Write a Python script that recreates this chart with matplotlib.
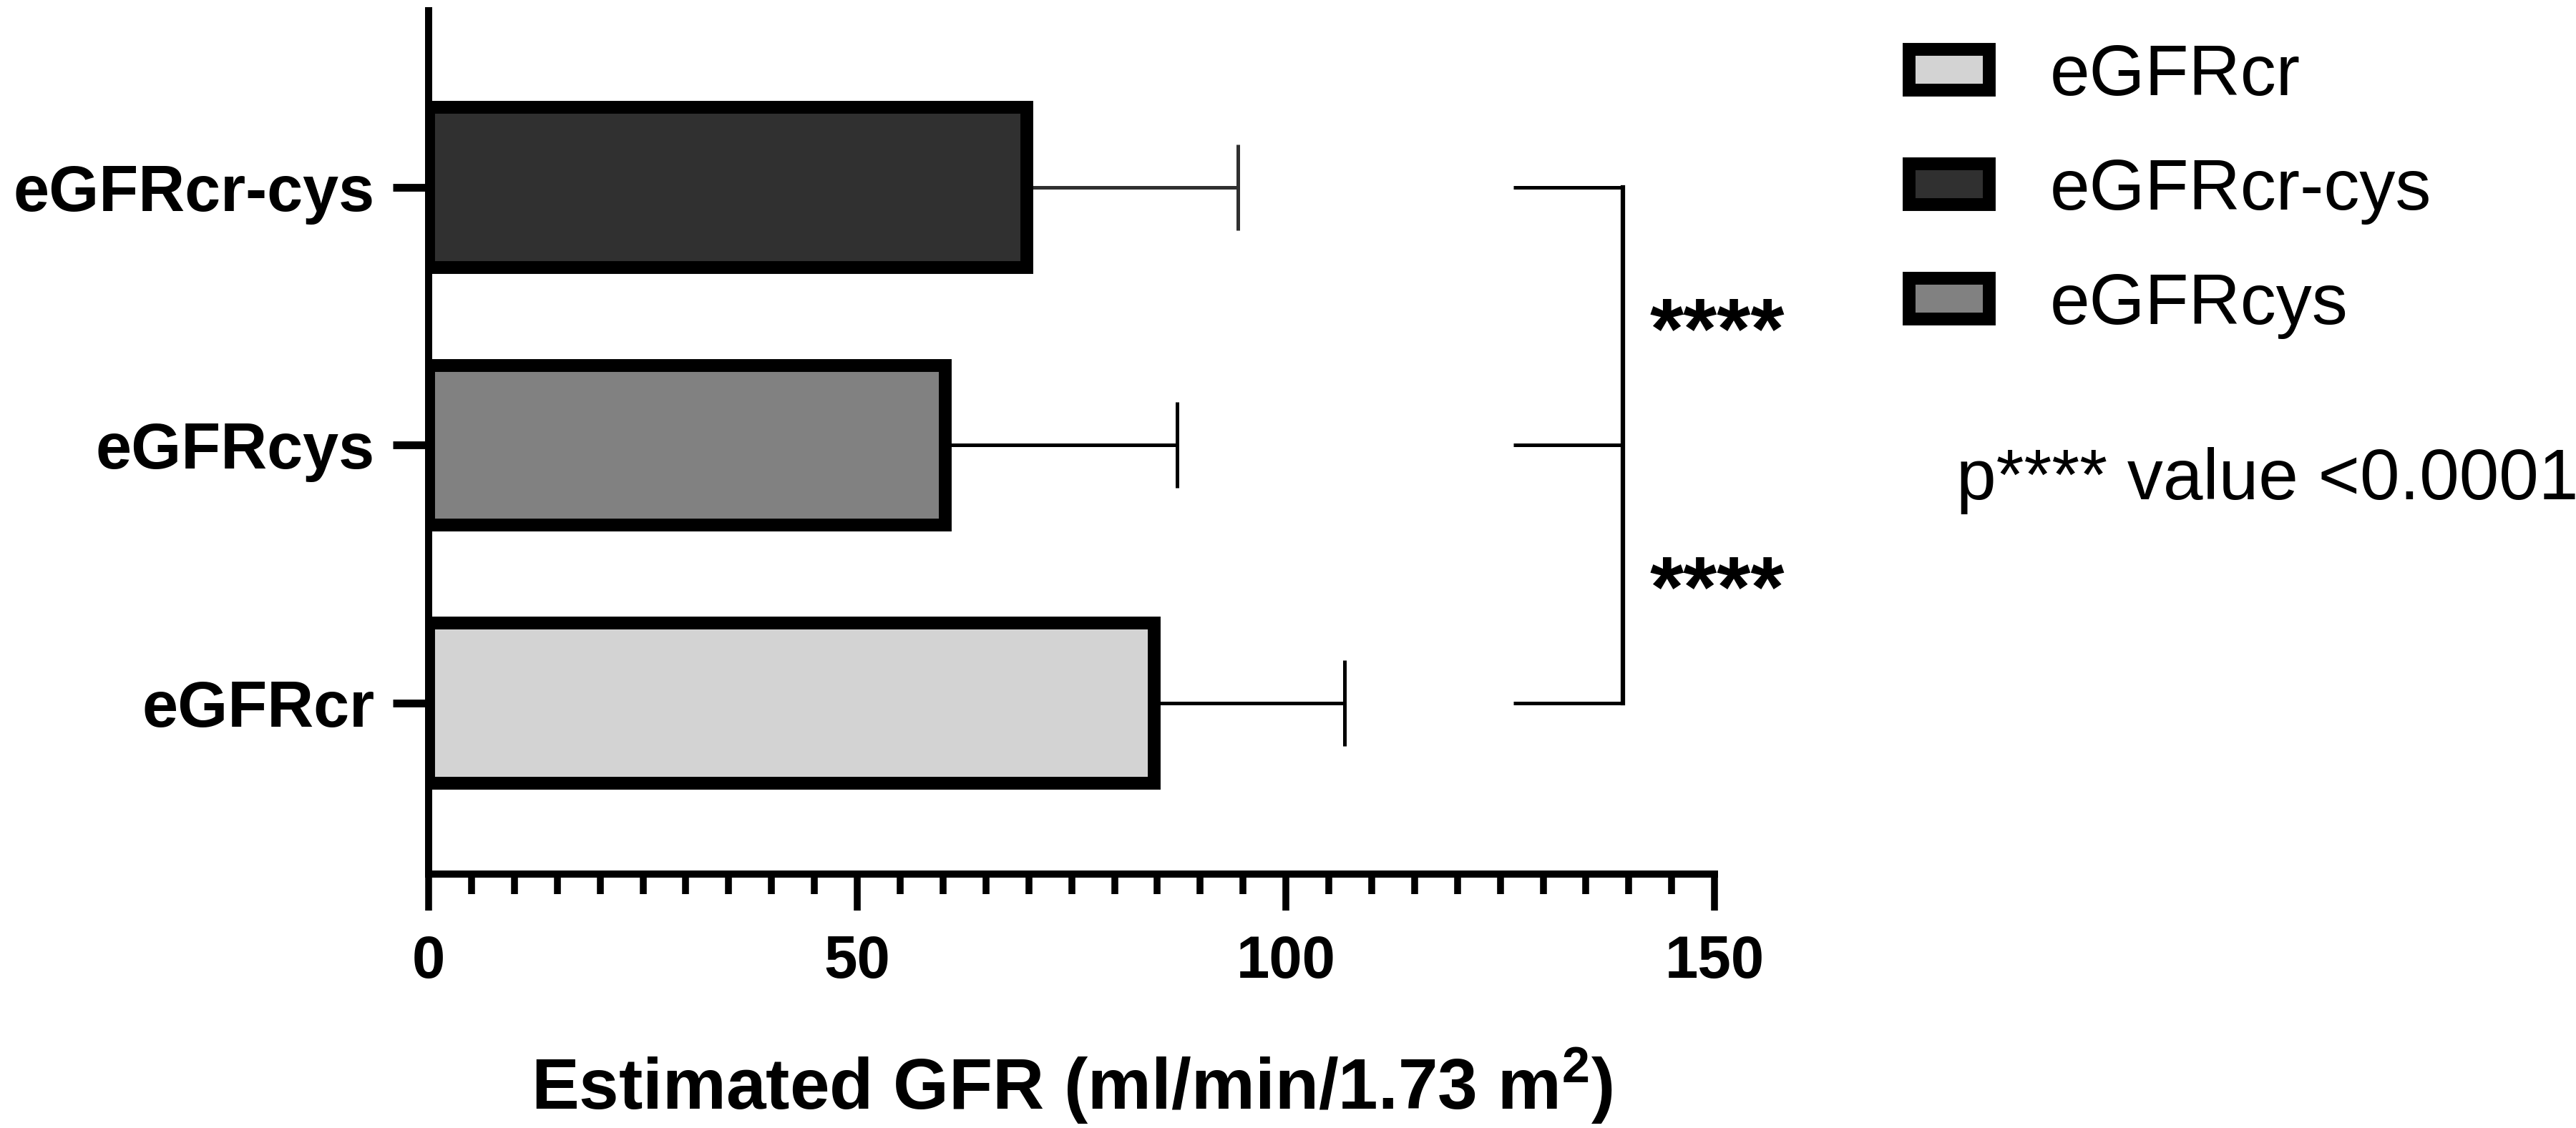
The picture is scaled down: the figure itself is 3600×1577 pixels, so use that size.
import numpy as np
import matplotlib
matplotlib.use("Agg")
import matplotlib.pyplot as plt
from matplotlib.ticker import MultipleLocator

plt.rcParams['font.family'] = ['Liberation Sans', 'DejaVu Sans']
plt.rcParams['mathtext.fontset'] = 'custom'
plt.rcParams['mathtext.rm'] = 'Liberation Sans:bold'
plt.rcParams['mathtext.bf'] = 'Liberation Sans:bold'
plt.rcParams['mathtext.default'] = 'bf'

# data (bottom to top)
groups = ['eGFRcr', 'eGFRcys', 'eGFRcr-cys']
means = [84.6, 60.3, 69.8]
sds = [22.2, 27.0, 24.6]
fills = ['#d3d3d3', '#818181', '#303030']
err_cols = ['black', 'black', '#303030']
legend_order = ['eGFRcr', 'eGFRcr-cys', 'eGFRcys']
stars = ['****', '****']
pnote = 'p**** value <0.0001'

fig = plt.figure(figsize=(12, 1577 / 300), dpi=300)
ax = fig.add_axes([0.1664, 0.2251, 0.4992, 0.7654])

pos = np.arange(len(groups))
handles = {}
for i, g in enumerate(groups):
    b = ax.barh(pos[i], means[i], height=0.62, color=fills[i], edgecolor='black',
                linewidth=4.3, zorder=2, label=g)
    handles[g] = b
    ax.errorbar(means[i], pos[i], xerr=[[0], [sds[i]]], fmt='none', ecolor=err_cols[i],
                elinewidth=1.2, capsize=14.4, capthick=1.2, zorder=1)

# significance bracket
bx0, bx1 = 126.5, 139.3
for p in pos:
    ax.plot([bx0, bx1], [p, p], color='black', lw=1.2, solid_capstyle='butt', clip_on=False)
ax.plot([bx1, bx1], [pos[0], pos[-1]], color='black', lw=1.5, solid_capstyle='projecting', clip_on=False)
for k, s in enumerate(stars):
    ax.annotate(s, (142.4, pos[k] + 0.5), xytext=(0, -14), textcoords='offset points',
                ha='left', va='baseline', fontsize=29, fontweight='bold', annotation_clip=False)

ax.set_xlim(0, 150)
ax.set_ylim(-0.663, 2.685)
ax.set_yticks(pos)
ax.set_yticklabels(groups, fontsize=21.6, fontweight='bold')
ax.xaxis.set_major_locator(MultipleLocator(50))
ax.xaxis.set_minor_locator(MultipleLocator(5))
for lab in ax.get_xticklabels():
    lab.set_fontweight('bold')
ax.tick_params(axis='x', which='major', length=12.2, width=2.3, labelsize=20, pad=8)
ax.tick_params(axis='x', which='minor', length=6.7, width=2.3)
ax.tick_params(axis='y', which='major', length=12, width=2.6, pad=6)
for s in ['top', 'right']:
    ax.spines[s].set_visible(False)
for s in ['left', 'bottom']:
    ax.spines[s].set_linewidth(2.4)

ax.set_xlabel(r'Estimated GFR (ml/min/1.73 m$^{2}$)', fontsize=24, fontweight='bold', labelpad=19)

leg = fig.legend([handles[g] for g in legend_order], legend_order, loc='upper left',
                 bbox_to_anchor=(0.741, 0.962), frameon=False, fontsize=24,
                 handlelength=1.12, handleheight=0.5, handletextpad=0.85,
                 labelspacing=0.66, borderpad=0, borderaxespad=0)

fig.text(0.7594, 0.574, pnote, fontsize=24, ha='left', va='center')

fig.savefig('out.png', dpi=300, facecolor='white')
